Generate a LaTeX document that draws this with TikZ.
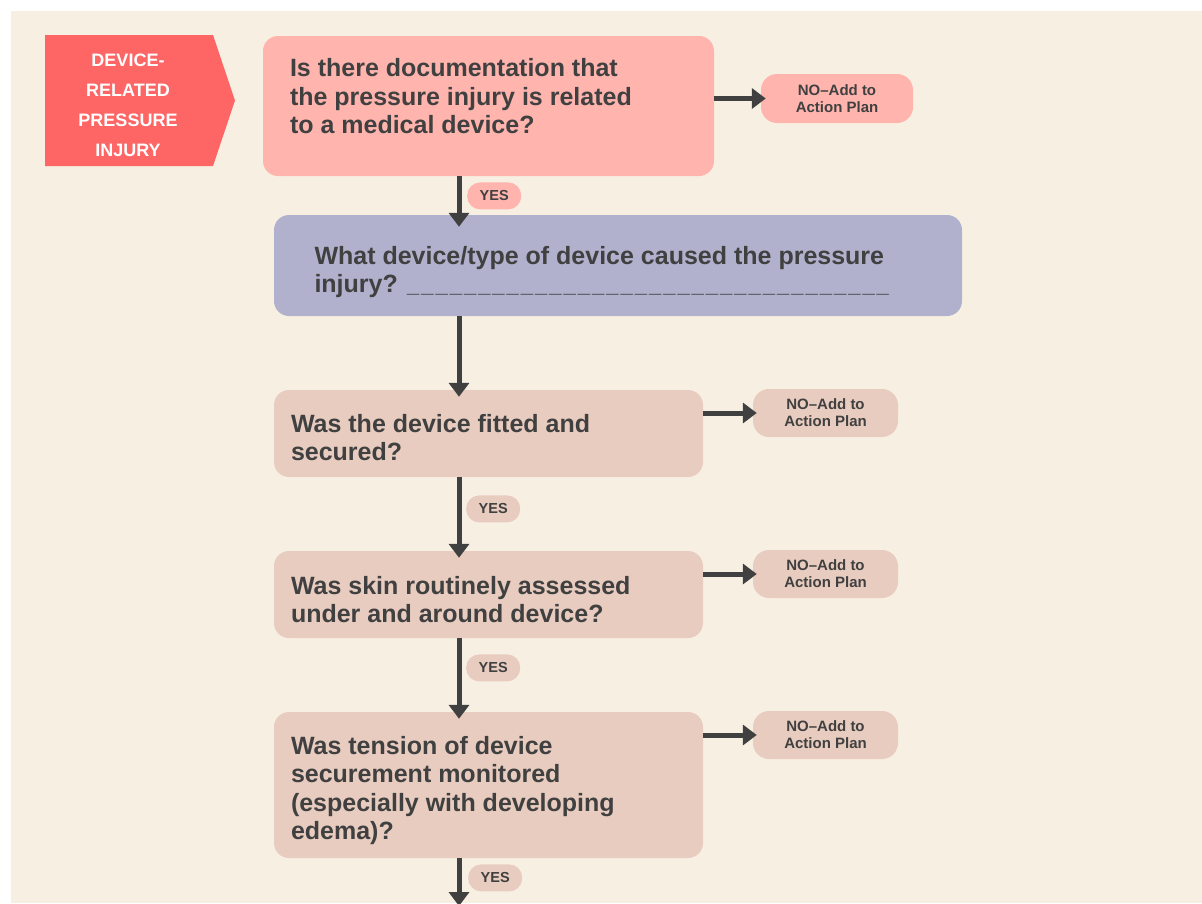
\documentclass[tikz,border=0pt]{standalone}
\usepackage{fontspec}
\setmainfont{Liberation Sans}
\usetikzlibrary{arrows.meta,positioning}
\definecolor{bgcream}{HTML}{F7F0E2}
\definecolor{bannerred}{HTML}{FE6565}
\definecolor{rosepink}{HTML}{FFB4AE}
\definecolor{lavender}{HTML}{B1B1CD}
\definecolor{tanpink}{HTML}{E8CCC0}
\definecolor{inkgray}{HTML}{404040}

\begin{document}
\begin{tikzpicture}[x=1pt,y=-1pt,
  qbox/.style={rounded corners=15pt, inner sep=0pt, minimum width=429pt},
  qtext/.style={inner sep=0pt, align=left, text=inkgray,
    font=\bfseries\fontsize{25}{28.5}\selectfont},
  nobox/.style={rounded corners=16pt, inner sep=0pt, align=center, text=inkgray,
    minimum width=145pt, minimum height=48pt,
    font=\bfseries\fontsize{15}{17}\selectfont},
  yesbox/.style={rounded corners=13pt, inner sep=0pt, text=inkgray,
    minimum width=54pt, minimum height=27pt, anchor=north west,
    font=\bfseries\fontsize{14.5}{16}\selectfont},
  flow/.style={line width=5pt, draw=inkgray,
    -{Triangle[width=20pt,length=14pt]}, shorten >=-7pt}]
\useasboundingbox (0,0) rectangle (1202,903);
\fill [bgcream] (11,11) rectangle (1202,903);

% banner
\fill [bannerred] (45,35) -- (213,35) -- (235,100.5) -- (213,166) -- (45,166) -- cycle;
\node [text=white, align=center, font=\bfseries\fontsize{18}{30}\selectfont]
  (banner) at (128,105) {DEVICE-\\RELATED\\PRESSURE\\INJURY};

% questions
\node [qbox, fill=rosepink, minimum width=451pt, minimum height=140pt] (docq) at (488.5,106) {};
\node [qtext, below right=22.7pt and 27pt of docq.north west] (docqtext)
  {Is there documentation that\\the pressure injury is related\\to a medical device?};

\node [qbox, fill=lavender, minimum width=688pt, minimum height=101pt] (typeq) at (618,265.5) {};
\node [qtext, below right=31.3pt and 40.5pt of typeq.north west] (typeqtext)
  {What device/type of device caused the pressure\\injury? {\fontsize{22}{28.5}\selectfont\foreach \k in {1,...,34}{\_\kern2pt}}};

\node [qbox, fill=tanpink, minimum height=87pt] (fitq) at (488.5,433.5) {};
\node [qtext, below right=24.3pt and 17pt of fitq.north west] (fitqtext)
  {Was the device fitted and\\secured?};

\node [qbox, fill=tanpink, minimum height=87pt] (skinq) at (488.5,594.5) {};
\node [qtext, below right=25pt and 17pt of skinq.north west] (skinqtext)
  {Was skin routinely assessed\\under and around device?};

\node [qbox, fill=tanpink, minimum height=146pt] (tensq) at (488.5,785) {};
\node [qtext, below right=24pt and 17pt of tensq.north west] (tensqtext)
  {Was tension of device\\securement monitored\\(especially with developing\\edema)?};

% no branches
\node [nobox, fill=rosepink, minimum width=152pt, minimum height=49pt]
  (nodoc) at (837,98.5) {NO--Add to\\Action Plan};
\node [nobox, fill=tanpink] (nofit) at (825.5,413) {NO--Add to\\Action Plan};
\node [nobox, fill=tanpink] (noskin) at (825.5,574) {NO--Add to\\Action Plan};
\node [nobox, fill=tanpink] (notens) at (825.5,735) {NO--Add to\\Action Plan};

% spine of the chart
\coordinate (spine) at (459,0);
\coordinate (exit) at (459,899);

\draw [flow, shorten >=-12pt] (docq.south -| spine) -- (typeq.north -| spine);
\draw [flow] (typeq.south -| spine) -- (fitq.north -| spine);
\draw [flow] (fitq.south -| spine) -- (skinq.north -| spine);
\draw [flow] (skinq.south -| spine) -- (tensq.north -| spine);
\draw [flow] (tensq.south -| spine) -- (exit);

\draw [flow, shorten >=-5pt] (nodoc.west -| docq.east) -- (nodoc.west);
\draw [flow, shorten >=-4pt] (nofit.west -| fitq.east) -- (nofit.west);
\draw [flow, shorten >=-4pt] (noskin.west -| skinq.east) -- (noskin.west);
\draw [flow, shorten >=-4pt] (notens.west -| tensq.east) -- (notens.west);

% yes labels
\node [yesbox, fill=rosepink] (yesdoc) at ([xshift=8pt,yshift=-6pt]docq.south -| spine) {YES};
\node [yesbox, fill=tanpink] (yesfit) at ([xshift=7pt,yshift=-18pt]fitq.south -| spine) {YES};
\node [yesbox, fill=tanpink] (yesskin) at ([xshift=7pt,yshift=-16pt]skinq.south -| spine) {YES};
\node [yesbox, fill=tanpink] (yestens) at ([xshift=9pt,yshift=-6pt]tensq.south -| spine) {YES};
\end{tikzpicture}
\end{document}
